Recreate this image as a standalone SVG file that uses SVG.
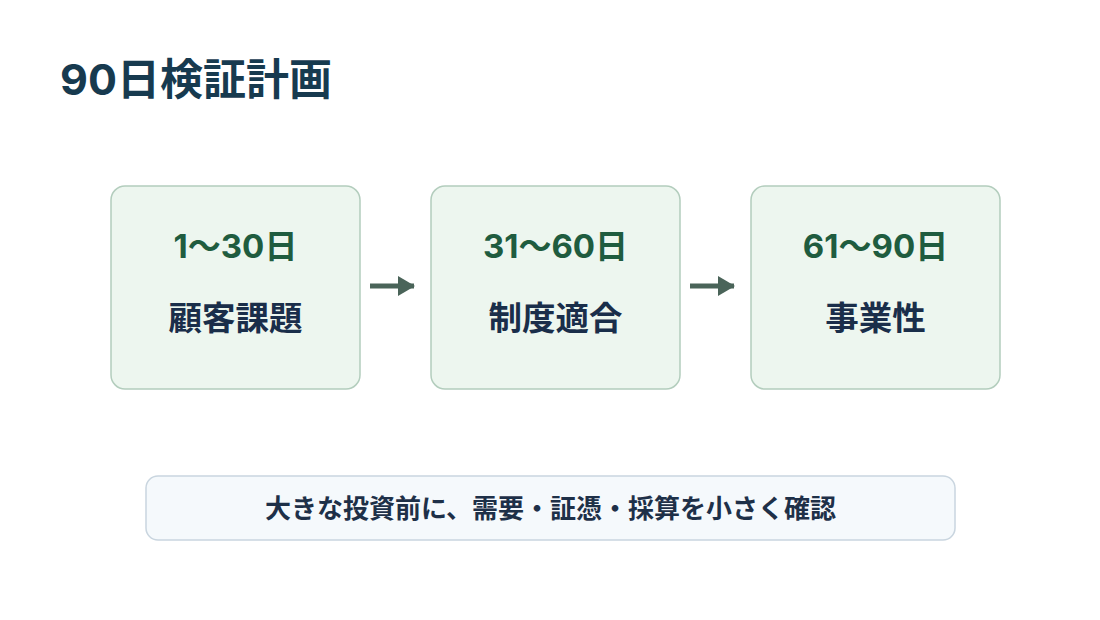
<svg xmlns="http://www.w3.org/2000/svg" width="1100" height="620" viewBox="0 0 1100 620">
<defs>
<marker id="ah" viewBox="0 0 17 20" refX="16" refY="10" markerWidth="17" markerHeight="20" orient="auto" markerUnits="userSpaceOnUse">
<path d="M0,0 L17,10 L0,20 Z" fill="#4a6459"/>
</marker>
</defs>
<style>
text{font-family:Inter,"Noto Sans CJK JP",sans-serif;font-weight:700;text-anchor:middle}
.box{fill:#edf6ef;stroke:#b3cdbd;stroke-width:1.5}
.hd{fill:#1f5c3f;font-size:33px}
.lb{fill:#1a2e4a;font-size:33.5px}
.conn{stroke:#4a6459;stroke-width:5;fill:none}
</style>
<rect width="1100" height="620" fill="#ffffff"/>
<text x="60" y="95" style="text-anchor:start;font-size:43px;fill:#173a4f">90日検証計画</text>
<g id="n1">
<rect class="box" x="111" y="186" width="249" height="203" rx="14"/>
<text class="hd" x="235.5" y="258">1〜30日</text>
<text class="lb" x="235.5" y="330">顧客課題</text>
</g>
<g id="n2">
<rect class="box" x="431" y="186" width="249" height="203" rx="14"/>
<text class="hd" x="555.5" y="258">31〜60日</text>
<text class="lb" x="555.5" y="330">制度適合</text>
</g>
<g id="n3">
<rect class="box" x="751" y="186" width="249" height="203" rx="14"/>
<text class="hd" x="875.5" y="258">61〜90日</text>
<text class="lb" x="875.5" y="330">事業性</text>
</g>
<g id="connectors">
<line class="conn" x1="370" y1="286" x2="414" y2="286" marker-end="url(#ah)"/>
<line class="conn" x1="690" y1="286" x2="734" y2="286" marker-end="url(#ah)"/>
</g>
<g id="note">
<rect x="146" y="476" width="809" height="64" rx="12" fill="#f5f9fc" stroke="#c9d5df" stroke-width="1.5"/>
<text x="550.5" y="518" style="font-size:26px;fill:#1e3048">大きな投資前に、需要・証憑・採算を小さく確認</text>
</g>
</svg>
